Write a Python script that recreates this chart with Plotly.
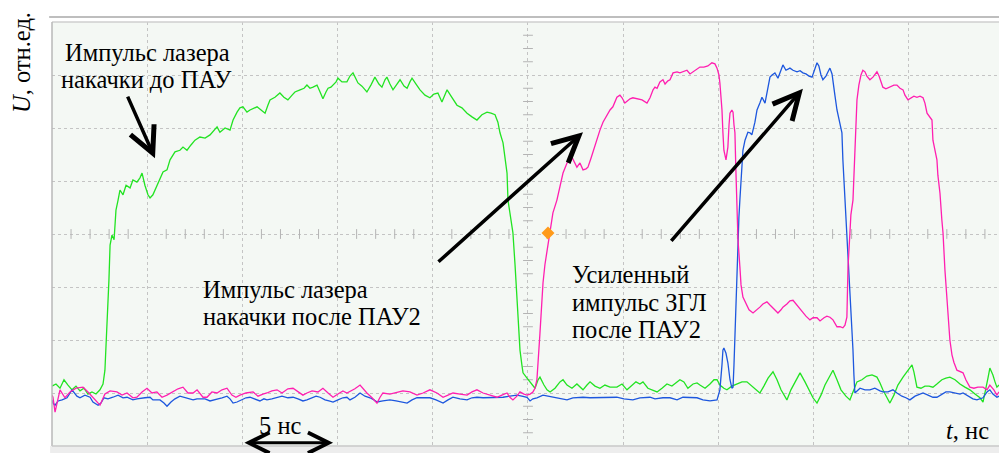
import plotly.graph_objects as go

# ---------------- data (t in ns, U in relative units = screen divisions) ----------------
green_t = [0.00,0.21,0.42,0.63,0.84,1.05,1.26,1.47,1.68,1.89,2.10,2.31,2.52,2.68,2.78,2.89,2.99,3.05,3.15,3.26,
           3.36,3.47,3.57,3.73,3.89,4.10,4.25,4.46,4.62,4.73,4.88,5.04,5.15,5.30,5.51,5.67,5.83,6.04,6.20,6.46,
           6.72,6.88,7.09,7.30,7.51,7.77,8.04,8.30,8.51,8.67,8.82,9.09,9.35,9.51,9.72,9.87,10.03,10.24,10.40,10.61,
           10.77,10.98,11.19,11.34,11.45,11.71,11.97,12.18,12.39,12.61,12.76,13.03,13.24,13.39,13.55,13.71,13.92,14.08,14.23,14.39,
           14.50,14.65,14.76,14.92,15.02,15.23,15.49,15.65,15.81,15.97,16.07,16.28,16.54,16.75,16.96,17.17,17.33,17.49,17.59,17.75,
           17.91,18.12,18.28,18.49,18.65,18.80,18.91,19.12,19.33,19.59,19.85,20.06,20.27,20.48,20.64,20.75,20.96,21.27,21.53,21.80,
           22.06,22.32,22.58,22.85,23.06,23.27,23.42,23.53,23.69,23.79,23.90,23.95,24.05,24.21,24.32,24.42,24.53,24.58,24.68,24.74,
           24.95,25.21,25.37,25.53,25.63,25.84,26.00,26.16,26.42,26.68,26.84,27.05,27.31,27.57,27.89,28.10,28.26,28.52,28.78,29.04,
           29.31,29.67,29.94,30.20,30.46,30.67,30.88,31.04,31.30,31.51,31.78,32.04,32.30,32.56,32.77,32.98,33.19,33.40,33.67,33.88,
           34.03,34.30,34.56,34.77,34.93,35.08,35.29,35.45,35.71,35.98,36.24,36.50,36.76,36.97,37.18,37.39,37.61,37.87,38.08,38.29,
           38.60,38.81,39.08,39.29,39.55,39.81,39.97,40.18,40.39,40.60,40.81,41.02,41.23,41.44,41.70,41.91,42.07,42.28,42.54,42.80,
           43.07,43.33,43.49,43.64,43.86,44.01,44.22,44.43,44.70,44.91,45.06,45.17,45.27,45.43,45.64,45.85,46.06,46.27,46.48,46.74,
           46.95,47.16,47.43,47.69,47.95,48.21,48.48,48.74,48.90,49.05,49.16,49.26,49.42,49.53,49.63,49.74]
green_u = [1.13,1.17,1.09,1.25,1.15,1.06,1.13,1.04,1.09,0.98,1.02,0.98,1.06,1.17,1.43,2.19,3.13,3.79,3.98,3.89,
           4.45,4.64,4.83,4.74,4.92,4.87,5.02,4.98,5.06,5.15,4.92,4.74,4.68,4.74,4.92,5.06,5.17,5.21,5.40,5.55,
           5.58,5.64,5.58,5.68,5.77,5.83,5.81,5.87,5.96,6.02,5.92,6.00,5.96,6.15,6.30,6.38,6.40,6.30,6.34,6.38,
           6.40,6.34,6.28,6.43,6.53,6.58,6.66,6.58,6.53,6.62,6.68,6.72,6.75,6.81,6.75,6.77,6.81,6.68,6.55,6.68,
           6.75,6.77,6.81,6.87,6.94,6.87,6.87,6.98,7.04,6.94,6.85,6.79,6.68,6.81,6.96,6.83,6.77,6.91,6.96,6.83,
           6.72,6.83,6.91,6.79,6.75,6.87,6.94,6.83,6.72,6.62,6.57,6.64,6.66,6.49,6.62,6.72,6.60,6.43,6.38,6.28,
           6.21,6.15,6.25,6.30,6.28,6.25,6.11,5.91,5.72,5.49,5.15,4.64,4.36,4.02,3.42,2.75,2.19,1.81,1.53,1.38,
           1.28,1.15,1.09,1.25,1.30,1.15,1.06,1.02,1.09,1.21,1.25,1.15,1.09,1.17,1.06,1.15,1.21,1.13,1.09,1.15,
           1.11,1.11,1.17,1.06,1.15,1.21,1.17,1.21,1.09,1.06,1.02,1.09,1.17,1.13,1.19,1.25,1.21,1.09,1.17,1.19,
           1.15,1.09,1.17,1.25,1.25,1.15,1.09,1.06,1.13,1.17,1.21,1.21,1.13,1.06,1.00,1.13,1.28,1.40,1.25,1.06,
           0.87,1.06,1.25,1.38,1.21,1.02,0.91,0.81,0.96,1.15,1.30,1.43,1.25,1.06,0.94,0.87,1.02,1.21,1.25,1.32,
           1.34,1.30,1.19,1.06,0.91,0.81,0.96,1.15,1.30,1.40,1.47,1.53,1.40,1.11,1.09,1.13,1.13,1.11,1.17,1.25,
           1.28,1.30,1.25,1.17,1.11,1.06,0.98,0.91,0.83,1.06,1.28,1.47,1.34,1.21,1.11,1.15]

magenta_t = [0.00,0.05,0.16,0.32,0.42,0.68,0.95,1.26,1.63,1.89,2.15,2.52,2.78,3.05,3.41,3.68,3.94,4.25,4.46,4.73,
             4.99,5.25,5.51,5.78,6.04,6.36,6.62,6.88,7.14,7.41,7.62,7.93,8.14,8.40,8.67,8.93,9.19,9.45,9.66,9.87,
             10.19,10.56,10.82,11.08,11.29,11.55,11.82,12.08,12.39,12.66,12.92,13.18,13.39,13.66,13.97,14.23,14.50,14.76,15.02,15.28,
             15.49,15.91,16.18,16.39,16.54,16.81,17.07,17.23,17.38,17.75,18.12,18.43,18.80,19.17,19.49,19.85,20.22,20.54,20.80,21.06,
             21.43,21.80,22.06,22.32,22.64,23.00,23.37,23.63,23.90,24.05,24.21,24.42,24.58,24.79,24.95,25.11,25.26,25.37,25.47,25.63,
             25.79,25.89,26.00,26.16,26.31,26.52,26.68,26.84,27.05,27.21,27.31,27.47,27.57,27.73,27.89,28.05,28.15,28.31,28.47,28.62,
             28.78,28.94,29.15,29.31,29.46,29.67,29.83,29.94,30.09,30.25,30.36,30.51,30.73,30.99,31.25,31.41,31.57,31.67,31.78,31.93,
             32.09,32.20,32.35,32.46,32.62,32.83,32.98,33.14,33.35,33.51,33.67,33.88,34.03,34.24,34.45,34.66,34.82,34.93,35.03,35.08,
             35.19,35.24,35.29,35.40,35.45,35.50,35.56,35.61,35.71,35.77,35.82,35.87,35.92,35.98,36.03,36.13,36.19,36.29,36.45,36.61,
             36.82,36.97,37.18,37.34,37.55,37.71,37.92,38.13,38.29,38.39,38.60,38.76,38.92,39.08,39.29,39.44,39.60,39.81,39.97,40.18,
             40.34,40.55,40.70,40.86,41.02,41.23,41.39,41.54,41.65,41.75,41.81,41.91,41.96,42.07,42.17,42.28,42.38,42.49,42.59,42.70,
             42.80,42.96,43.12,43.22,43.33,43.44,43.54,43.64,43.80,44.01,44.22,44.38,44.54,44.70,44.80,44.96,45.12,45.27,45.43,45.59,
             45.75,45.85,45.96,46.11,46.22,46.27,46.38,46.48,46.53,46.64,46.74,46.80,46.90,47.01,47.16,47.27,47.37,47.53,47.69,47.85,
             48.00,48.21,48.42,48.63,48.90,49.11,49.26,49.47,49.63,49.74]
magenta_u = [0.96,0.92,0.64,0.87,1.06,0.91,1.02,1.09,1.11,1.02,0.91,0.77,0.98,1.04,1.02,0.96,1.00,0.91,0.92,1.02,
             1.09,1.00,1.02,0.92,0.96,1.02,1.08,1.11,1.00,1.00,1.06,0.92,0.92,1.02,1.00,1.06,1.09,0.96,0.92,0.96,
             1.00,1.02,0.94,0.98,1.00,1.04,1.06,1.00,1.08,1.09,1.02,0.96,1.00,1.04,1.02,1.09,1.00,0.92,0.98,1.04,
             1.00,1.08,1.15,1.06,1.00,0.91,0.81,0.92,1.00,0.98,1.02,1.04,1.02,0.96,1.00,1.06,1.00,0.92,0.96,1.00,
             0.98,0.96,1.02,1.06,1.00,0.96,0.92,0.96,1.00,0.92,0.87,0.94,1.02,0.98,0.96,0.98,1.02,1.09,1.25,2.13,
             3.08,3.42,3.70,4.08,4.40,4.64,4.87,5.15,5.34,5.43,5.45,5.34,5.26,5.34,5.21,5.23,5.26,5.43,5.62,5.81,
             5.96,6.11,6.25,6.34,6.40,6.58,6.62,6.57,6.47,6.51,6.55,6.57,6.55,6.53,6.47,6.57,6.72,6.77,6.75,6.87,
             6.91,6.83,6.89,6.91,7.04,7.06,7.04,7.06,7.09,7.02,7.06,7.11,7.15,7.15,7.17,7.23,7.21,7.13,7.00,6.85,
             6.34,5.91,5.58,5.40,5.58,5.64,6.06,6.28,6.34,6.30,6.06,5.91,5.21,4.64,3.89,3.38,3.04,2.81,2.68,2.57,
             2.51,2.55,2.62,2.68,2.72,2.66,2.58,2.51,2.57,2.62,2.68,2.74,2.75,2.68,2.57,2.51,2.45,2.38,2.42,2.42,
             2.36,2.42,2.45,2.43,2.38,2.25,2.25,2.23,2.28,2.43,3.38,4.02,4.36,4.64,5.58,6.53,6.81,7.00,7.09,7.06,
             6.98,6.91,6.96,7.02,7.06,6.98,6.87,6.77,6.74,6.77,6.81,6.81,6.75,6.72,6.62,6.53,6.57,6.60,6.58,6.60,
             6.57,6.47,6.28,6.19,6.15,5.77,5.58,5.40,5.11,4.77,4.26,4.02,3.32,2.75,2.00,1.72,1.58,1.43,1.40,1.38,
             1.25,1.11,1.09,1.11,1.11,1.06,1.15,1.06,0.96,1.02]

blue_t = [0.00,0.05,0.16,0.32,0.53,0.79,1.05,1.31,1.47,1.73,2.00,2.15,2.42,2.57,2.73,2.94,3.20,3.47,3.73,3.94,
          4.25,4.46,4.88,5.15,5.30,5.67,5.88,6.04,6.25,6.46,6.72,6.93,7.09,7.41,7.62,8.04,8.30,8.46,8.72,8.93,
          9.19,9.35,9.51,9.72,9.98,10.19,10.40,10.66,10.92,11.13,11.29,11.55,11.82,12.08,12.39,12.66,12.92,13.18,13.39,13.66,
          13.87,14.08,14.34,14.55,14.76,15.02,15.28,15.49,15.65,15.91,16.18,16.44,16.70,16.91,17.07,17.38,17.75,18.07,18.38,18.65,
          18.91,19.17,19.49,19.85,20.17,20.54,20.80,21.06,21.43,21.80,22.06,22.32,22.64,23.00,23.37,23.69,24.05,24.42,24.68,24.95,
          25.11,25.26,25.47,25.63,25.79,26.05,26.31,26.68,27.05,27.36,27.63,27.89,28.26,28.62,28.94,29.31,29.67,30.04,30.51,30.88,
          31.14,31.41,31.67,32.09,32.46,32.83,33.14,33.51,33.88,34.19,34.56,34.93,35.08,35.19,35.24,35.29,35.40,35.50,35.61,35.71,
          35.77,35.82,35.87,35.92,35.98,36.03,36.08,36.13,36.24,36.29,36.40,36.55,36.66,36.76,36.92,37.03,37.18,37.29,37.45,37.55,
          37.71,37.82,37.97,38.13,38.24,38.39,38.55,38.76,38.92,39.13,39.29,39.44,39.60,39.76,39.92,40.07,40.18,40.28,40.39,40.49,
          40.65,40.76,40.86,40.97,41.02,41.12,41.23,41.39,41.49,41.54,41.65,41.70,41.81,41.91,42.02,42.07,42.12,42.17,42.44,42.70,
          42.96,43.22,43.49,43.64,43.91,44.17,44.38,44.64,44.85,45.06,45.33,45.59,45.75,46.01,46.27,46.48,46.74,46.95,47.16,47.43,
          47.69,47.85,48.11,48.37,48.58,48.74,48.90,49.11,49.26,49.42,49.63,49.74]
blue_u = [0.87,0.81,0.77,0.85,0.87,0.91,1.06,0.94,0.91,0.96,0.92,0.83,0.77,0.81,0.91,0.89,0.92,0.96,0.91,0.92,
          0.87,0.89,0.91,0.92,0.87,0.87,0.81,0.75,0.83,0.89,0.94,0.92,0.91,0.87,0.89,0.89,0.85,0.87,0.89,0.91,
          0.94,0.89,0.81,0.83,0.87,0.91,0.92,0.89,0.85,0.89,0.87,0.89,0.91,0.94,0.91,0.92,0.89,0.85,0.87,0.91,
          0.94,0.92,0.87,0.85,0.83,0.87,0.91,0.92,0.87,0.92,1.00,0.94,0.91,0.87,0.83,0.85,0.87,0.85,0.83,0.81,
          0.87,0.91,0.91,0.91,0.87,0.81,0.87,0.92,0.89,0.87,0.91,0.92,0.91,0.91,0.92,0.92,0.94,0.96,0.94,0.92,
          0.85,0.89,0.91,0.94,0.96,0.94,0.92,0.89,0.87,0.91,0.92,0.92,0.91,0.91,0.91,0.92,0.92,0.89,0.87,0.91,
          0.92,0.92,0.89,0.91,0.91,0.87,0.92,0.91,0.91,0.87,0.85,0.87,1.06,1.53,1.81,1.85,1.75,1.57,1.25,1.09,
          1.11,1.53,2.13,2.75,3.38,3.89,4.32,4.64,5.30,5.58,5.77,5.92,5.91,5.87,6.11,6.34,6.47,6.58,6.47,6.66,
          6.96,7.00,7.04,6.94,7.06,7.19,7.09,7.13,7.09,7.06,7.08,7.04,7.02,6.98,6.96,7.11,7.23,7.17,7.00,6.91,
          6.98,7.06,7.13,7.02,6.91,6.62,6.34,6.11,5.91,5.40,4.64,4.26,3.70,3.08,2.19,1.81,1.34,1.00,1.09,1.06,
          1.06,1.09,1.04,1.02,1.02,1.06,1.00,0.94,0.91,0.87,0.94,0.98,1.00,0.96,0.92,0.92,0.98,1.02,1.02,1.00,
          0.98,1.00,0.94,0.89,0.87,0.89,0.91,1.02,1.06,0.98,0.92,0.94]

trigger_t = [26.05]
trigger_u = [4.02]

GREEN = "#22e322"
MAGENTA = "#ff1fb0"
BLUE = "#1d57de"
FONT = "Liberation Serif, Times New Roman, serif"
FS = 24.5

T_MAX = 49.74
U_MAX = 8

fig = go.Figure()

# graticule minor ticks on the centre lines
cx = [i * 1.0 for i in range(1, 50) if i % 5 != 0]
fig.add_trace(go.Scatter(x=cx, y=[4] * len(cx), mode="markers", hoverinfo="skip",
                         marker=dict(symbol="line-ns", size=7, line=dict(width=1, color="#b4b4b4"))))
cy = [j * 0.25 for j in range(1, 32) if j % 4 != 0]
fig.add_trace(go.Scatter(x=[25] * len(cy), y=cy, mode="markers", hoverinfo="skip",
                         marker=dict(symbol="line-ew", size=7, line=dict(width=1, color="#b4b4b4"))))

fig.add_trace(go.Scatter(x=green_t, y=green_u, mode="lines", line=dict(color=GREEN, width=1.3)))
fig.add_trace(go.Scatter(x=blue_t, y=blue_u, mode="lines", line=dict(color=BLUE, width=1.3)))
fig.add_trace(go.Scatter(x=magenta_t, y=magenta_u, mode="lines", line=dict(color=MAGENTA, width=1.3)))
fig.add_trace(go.Scatter(x=trigger_t, y=trigger_u, mode="markers",
                         marker=dict(symbol="diamond", size=10, color="#ff9a1a")))

ann = []
txt = dict(family=FONT, size=FS, color="black")

# each text line placed separately (tight line spacing as in the original)
label_lines = [
    ("Импульс лазера", 5.04, 7.42, "center"),
    ("накачки до ПАУ", 4.94, 6.92, "center"),
    ("Импульс лазера", 7.85, 2.96, "left"),
    ("накачки после ПАУ2", 7.85, 2.44, "left"),
    ("Усиленный", 27.23, 3.24, "left"),
    ("импульс ЗГЛ", 27.23, 2.71, "left"),
    ("после ПАУ2", 27.23, 2.20, "left"),
]
for s, lx, ly, anc in label_lines:
    ann.append(dict(x=lx, y=ly, xref="x", yref="y", text=s, showarrow=False, font=txt,
                    xanchor=anc, yanchor="middle"))

arrows = [((3.94, 6.62), (5.41, 5.43)),
          ((20.22, 3.45), (27.89, 5.92)),
          ((32.46, 3.84), (39.44, 6.74))]
for (tx, ty), (hx, hy) in arrows:
    ann.append(dict(x=hx, y=hy, ax=tx, ay=ty, xref="x", yref="y", axref="x", ayref="y", text="",
                    showarrow=True, arrowhead=5, arrowsize=1.45, arrowwidth=3.5, arrowcolor="black"))

# 5 ns scale bar
ann.append(dict(x=14.76, y=0.06, ax=10.03, ay=0.06, xref="x", yref="y", axref="x", ayref="y", text="",
                showarrow=True, arrowhead=5, startarrowhead=5, arrowside="end+start",
                arrowsize=1.35, startarrowsize=1.35, arrowwidth=3, arrowcolor="black"))
ann.append(dict(x=11.97, y=0.38, xref="x", yref="y", text="5 нс", showarrow=False, font=txt,
                xanchor="center", yanchor="middle"))
ann.append(dict(x=48.06, y=0.30, xref="x", yref="y", text="<i>t</i>, нс", showarrow=False, font=txt,
                xanchor="center", yanchor="middle"))
ann.append(dict(x=-0.032, y=0.905, xref="paper", yref="paper", text="<i>U</i>, отн.ед.",
                showarrow=False, font=txt, textangle=-90, xanchor="center", yanchor="middle"))

shapes = [
    dict(type="line", xref="paper", yref="paper", x0=-0.003, x1=1.0, y0=1.0118, y1=1.0118,
         line=dict(color="#a9a9a9", width=1.5)),
    dict(type="line", xref="paper", yref="paper", x0=0, x1=1.0, y0=1.0, y1=1.0,
         line=dict(color="#cfcfcf", width=1.5)),
    dict(type="line", xref="paper", yref="paper", x0=0, x1=0, y0=0, y1=1.0,
         line=dict(color="#b8b8b8", width=1.5)),
    dict(type="rect", xref="paper", yref="paper", x0=-0.002, x1=1.0, y0=-0.017, y1=0,
         fillcolor="#ededed", line=dict(width=0), layer="below"),
    dict(type="line", xref="paper", yref="paper", x0=0, x1=1.0, y0=0, y1=0,
         line=dict(color="#c8c8c8", width=1.5)),
]

fig.update_layout(
    width=999, height=453,
    margin=dict(l=52, r=0, t=22, b=7, pad=0),
    paper_bgcolor="white", plot_bgcolor="#f4f8f4",
    showlegend=False, hovermode=False,
    annotations=ann, shapes=shapes,
    xaxis=dict(range=[0, T_MAX], dtick=5, showgrid=True, gridcolor="#c4c4c4", griddash="dot", gridwidth=1,
               showticklabels=False, zeroline=False, showline=False, ticks=""),
    yaxis=dict(range=[0, U_MAX], dtick=1, showgrid=True, gridcolor="#c4c4c4", griddash="dot", gridwidth=1,
               showticklabels=False, zeroline=False, showline=False, ticks=""),
)

fig.write_html("out.html")
